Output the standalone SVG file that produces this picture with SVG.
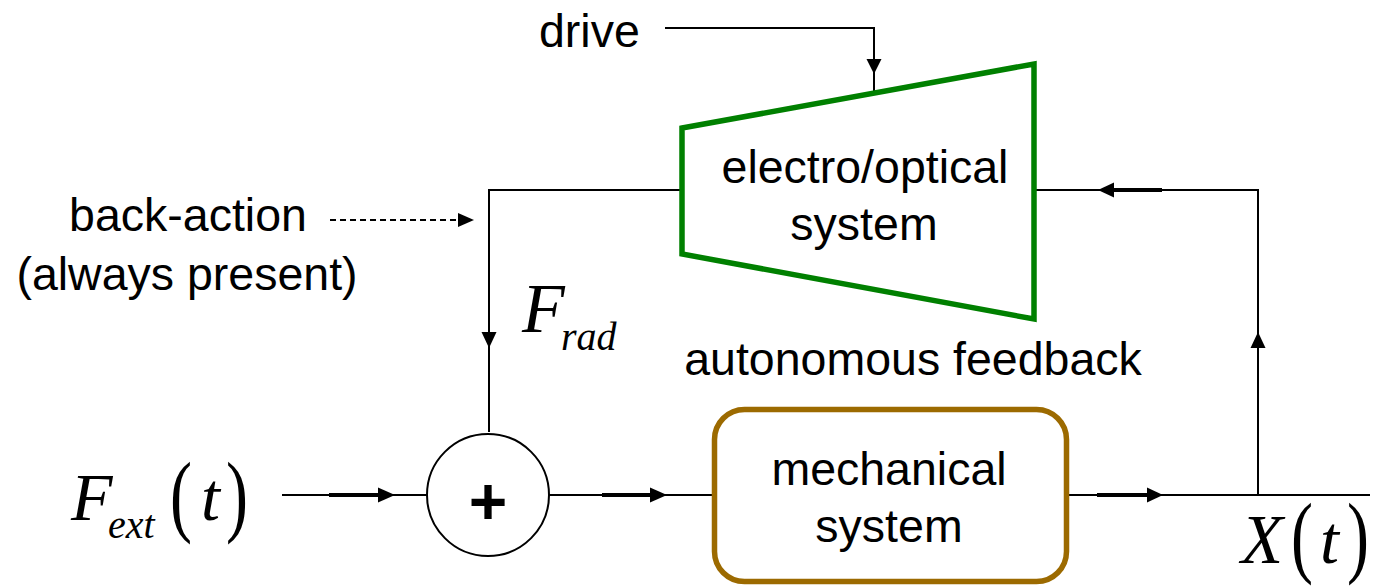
<svg xmlns="http://www.w3.org/2000/svg" width="1374" height="586" viewBox="0 0 1374 586">
<style>
.lbl{font-family:"Liberation Sans",Arial,sans-serif;font-size:46.5px;fill:#000}
.math{font-family:"Liberation Serif","Times New Roman",serif;font-style:italic;fill:#000}
.par{font-family:"Liberation Serif","Times New Roman",serif;font-style:normal;font-size:66px;fill:#000}
.ln{fill:none;stroke:#000;stroke-width:2}
.thk{fill:none;stroke:#000;stroke-width:4}
.dash{fill:none;stroke:#000;stroke-width:2;stroke-dasharray:6,4}
.head{fill:#000;stroke:none}
</style>
<rect width="1374" height="586" fill="#fff"/>
<g id="connectors">
  <path class="ln" d="M665,28 H874 V92"/>
  <polygon class="head" points="866.5,59 881.5,59 874,74"/>
  <path class="ln" d="M1258,495 V190 H1034"/>
  <polygon class="head" points="1250.5,348 1265.5,348 1258,332"/>
  <path class="thk" d="M1112,190 H1162"/>
  <polygon class="head" points="1114,182.5 1114,197.5 1098,190"/>
  <path class="ln" d="M682,190 H489 V432"/>
  <polygon class="head" points="481.5,332 496.5,332 489,348"/>
  <path class="dash" d="M330,220 H459"/>
  <polygon class="head" points="458,213 458,227 474,220"/>
  <path class="ln" d="M282,495 H428"/>
  <path class="thk" d="M329,495 H380"/>
  <polygon class="head" points="378,487.5 378,502.5 395,495"/>
  <path class="ln" d="M549,495 H714"/>
  <path class="thk" d="M602,495 H652"/>
  <polygon class="head" points="650,487.5 650,502.5 667,495"/>
  <path class="ln" d="M1066,495 H1370"/>
  <path class="thk" d="M1097,495 H1149"/>
  <polygon class="head" points="1147,487.5 1147,502.5 1163,495"/>
</g>
<g id="optical">
  <polygon points="682,128 1034,64 1034,319 682,254" fill="#fff" stroke="#008000" stroke-width="5.5" stroke-linejoin="miter"/>
  <text class="lbl" x="865" y="183" text-anchor="middle">electro/optical</text>
  <text class="lbl" x="864" y="240" text-anchor="middle">system</text>
</g>
<g id="mechanical">
  <rect x="714.5" y="409.5" width="352" height="172" rx="30" ry="30" fill="#fff" stroke="#9C6A00" stroke-width="5.5"/>
  <text class="lbl" x="889" y="485" text-anchor="middle">mechanical</text>
  <text class="lbl" x="889" y="542" text-anchor="middle">system</text>
</g>
<g id="sum">
  <circle cx="488" cy="495" r="61" fill="#fff" stroke="#000" stroke-width="2"/>
  <text x="488" y="524" text-anchor="middle" style="font-family:'Liberation Sans',Arial,sans-serif;font-weight:bold;font-size:66px">+</text>
</g>
<g id="drive-label">
  <text class="lbl" x="539" y="47">drive</text>
</g>
<g id="backaction-label">
  <text class="lbl" x="188" y="231" text-anchor="middle">back-action</text>
  <text class="lbl" x="187" y="290" text-anchor="middle">(always present)</text>
</g>
<g id="feedback-label">
  <text class="lbl" x="913" y="375" text-anchor="middle">autonomous feedback</text>
</g>
<g id="Fext">
  <text class="math" x="71" y="520" font-size="68">F</text>
  <text class="math" x="108" y="538" font-size="40">ext</text>
  <text class="par" transform="translate(170,525) scale(1,1.38)">(</text>
  <text class="math" x="201" y="520" font-size="68">t</text>
  <text class="par" transform="translate(226,525) scale(1,1.38)">)</text>
</g>
<g id="Frad">
  <text class="math" x="522" y="332" font-size="70">F</text>
  <text class="math" x="561" y="350" font-size="40">rad</text>
</g>
<g id="Xt">
  <text class="math" x="1241" y="563" font-size="69">X</text>
  <text class="par" transform="translate(1291,566) scale(1,1.38)">(</text>
  <text class="math" x="1320" y="563" font-size="68">t</text>
  <text class="par" transform="translate(1347,566) scale(1,1.38)">)</text>
</g>
</svg>
